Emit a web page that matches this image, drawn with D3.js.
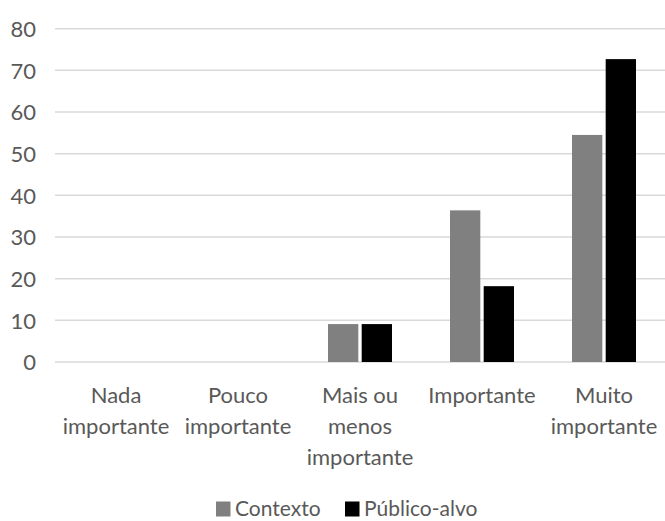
<!DOCTYPE html>
<html><head><meta charset="utf-8">
<script src="https://cdn.jsdelivr.net/npm/d3@7"></script>
<style>body{margin:0;background:#fff}text{font-family:Lato,"Liberation Sans",sans-serif;fill:#595959}</style>
</head><body>
<svg id="c" width="665" height="521"></svg>
<script>
const categories = [["Nada","importante"],["Pouco","importante"],["Mais ou","menos","importante"],["Importante"],["Muito","importante"]];
const seriesNames = ["Contexto","Público-alvo"];
const contexto = [0,0,9.1,36.4,54.5];
const publico = [0,0,9.1,18.2,72.7];
const yTicks = [0,10,20,30,40,50,60,70,80];
const colors = ["#808080","#000000"];

const svg = d3.select("#c");
const W = 665, left = 55;
const FS = "22px";
const x = d3.scaleBand().domain(d3.range(categories.length)).range([left, W]);
const y = d3.scaleLinear().domain([0,80]).range([362, 28.7]);

// gridlines
svg.append("g").selectAll("line").data(yTicks).join("line")
  .attr("x1", left).attr("x2", W).attr("y1", d=>y(d)).attr("y2", d=>y(d))
  .attr("stroke", "#d9d9d9").attr("stroke-width", 1.5);

// y axis labels
const yAxis = d3.axisLeft(y).tickValues(yTicks).tickSize(0).tickPadding(0);
const ga = svg.append("g").attr("transform", "translate(36,0)").call(yAxis);
ga.select(".domain").remove();
ga.selectAll("text").style("font-size",FS).attr("fill","#595959").attr("dy","0.36em").style("font-family","Lato");

// bars
const inner = d3.scaleBand().domain([0,1]).range([0, 64]).paddingInner(0.1);
const data = [contexto, publico];
data.forEach((vals, s) => {
  svg.append("g").selectAll("rect").data(vals).join("rect")
    .attr("x", (d,i) => x(i) + x.bandwidth()/2 - 32 + inner(s))
    .attr("width", inner.bandwidth())
    .attr("y", d => y(d))
    .attr("height", d => y(0) - y(d))
    .attr("fill", colors[s]);
});

// x labels
const xl = svg.append("g");
categories.forEach((lines, i) => {
  const cx = x(i) + x.bandwidth()/2;
  const t = xl.append("text").attr("text-anchor","middle").style("font-size",FS)
    .attr("x", cx).attr("y", 403);
  lines.forEach((ln, k) => t.append("tspan").attr("x", cx).attr("dy", k===0?0:31).text(ln));
});

// legend
const lg = svg.append("g");
const lx = [216, 345];
seriesNames.forEach((n, s) => {
  lg.append("rect").attr("x", lx[s]).attr("y", 501.5).attr("width", 14.5).attr("height", 15).attr("fill", colors[s]);
  lg.append("text").attr("x", lx[s]+19).attr("y", 516).style("font-size","21px").text(n);
});
</script>
</body></html>
